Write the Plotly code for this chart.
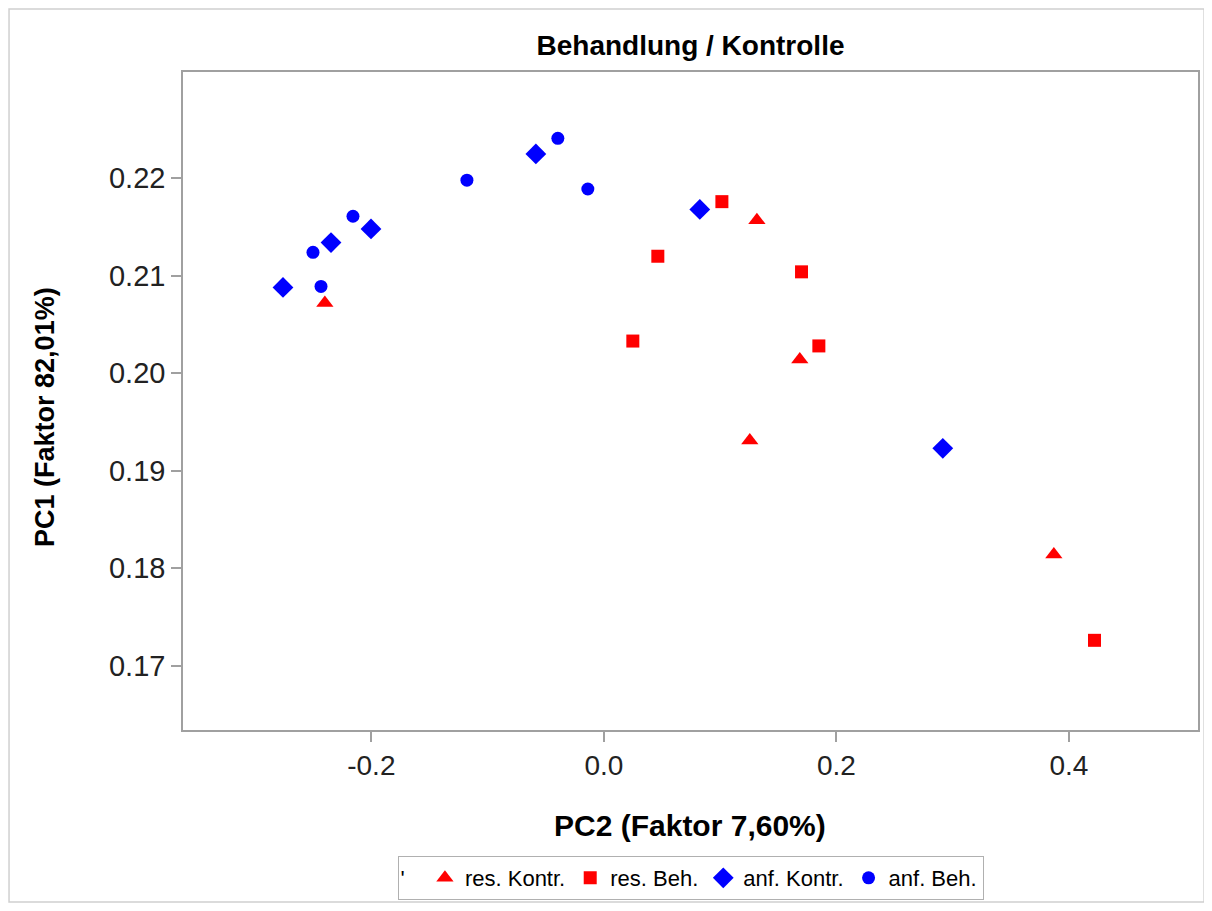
import plotly.graph_objects as go

# PC2 (x) / PC1 (y) values per group
res_kontr_x = [-0.240, 0.1316, 0.1685, 0.1255, 0.387]
res_kontr_y = [0.2072, 0.2157, 0.2014, 0.1931, 0.1814]

res_beh_x = [0.1015, 0.0464, 0.170, 0.0249, 0.1849, 0.422]
res_beh_y = [0.2176, 0.2120, 0.2104, 0.2033, 0.2028, 0.1726]

anf_kontr_x = [-0.276, -0.2347, -0.2003, -0.0585, 0.0825, 0.2915]
anf_kontr_y = [0.2088, 0.2134, 0.2148, 0.2225, 0.2168, 0.1923]

anf_beh_x = [-0.2502, -0.2158, -0.2433, -0.1178, -0.0396, -0.0138]
anf_beh_y = [0.2124, 0.2161, 0.2089, 0.2198, 0.2241, 0.2189]

x_ticks = [-0.2, 0.0, 0.2, 0.4]
x_tick_labels = ["-0.2", "0.0", "0.2", "0.4"]
y_ticks = [0.17, 0.18, 0.19, 0.20, 0.21, 0.22]
y_tick_labels = ["0.17", "0.18", "0.19", "0.20", "0.21", "0.22"]

RED = "#ff0000"
BLUE = "#0000ff"
FONT = "Liberation Sans, Arial, sans-serif"

fig = go.Figure()
fig.add_trace(go.Scatter(x=res_kontr_x, y=res_kontr_y, mode="markers", name="res. Kontr.",
                         marker=dict(symbol="triangle-up", size=15, color=RED)))
fig.add_trace(go.Scatter(x=res_beh_x, y=res_beh_y, mode="markers", name="res. Beh.",
                         marker=dict(symbol="square", size=13, color=RED)))
fig.add_trace(go.Scatter(x=anf_kontr_x, y=anf_kontr_y, mode="markers", name="anf. Kontr.",
                         marker=dict(symbol="diamond", size=16, color=BLUE)))
fig.add_trace(go.Scatter(x=anf_beh_x, y=anf_beh_y, mode="markers", name="anf. Beh.",
                         marker=dict(symbol="circle", size=13, color=BLUE)))

axis_common = dict(
    showgrid=False, zeroline=False, showline=True, linecolor="#a0a0a0", linewidth=1.5,
    mirror=True, ticks="outside", ticklen=10, tickcolor="#a0a0a0", tickwidth=1.5,
    automargin=False,
)

fig.update_layout(
    width=1204, height=895,
    paper_bgcolor="white", plot_bgcolor="white",
    margin=dict(l=175, r=14, t=64, b=173, autoexpand=False),
    title=dict(text="<b>Behandlung / Kontrolle</b>", xref="paper", x=0.5, xanchor="center",
               y=0.9587, yanchor="middle",
               font=dict(family=FONT, size=28, color="black")),
    xaxis=dict(range=[-0.362, 0.511], tickvals=x_ticks, ticktext=x_tick_labels,
               tickfont=dict(family=FONT, size=28, color="#222222"),
               **axis_common),
    yaxis=dict(range=[0.1634, 0.2309], tickvals=y_ticks, ticktext=y_tick_labels,
               tickfont=dict(family=FONT, size=29, color="#222222"),
               **axis_common),
    showlegend=True,
    legend=dict(orientation="h", x=0.5, xanchor="center", y=-0.2584, yanchor="bottom",
                bordercolor="#b0b0b0", borderwidth=1, bgcolor="white",
                title=dict(text="'  ", side="left", font=dict(family=FONT, size=22, color="black")),
                font=dict(family=FONT, size=22, color="black"),
                itemwidth=30, tracegroupgap=0),
    annotations=[
        dict(text="<b>PC2 (Faktor 7,60%)</b>", xref="paper", yref="paper", x=0.4995, y=-0.1444,
             xanchor="center", yanchor="middle", showarrow=False,
             font=dict(family=FONT, size=30, color="black")),
        dict(text="<b>PC1 (Faktor 82,01%)</b>", xref="paper", yref="paper", x=-0.136, y=0.4757,
             xanchor="center", yanchor="middle", showarrow=False, textangle=-90,
             font=dict(family=FONT, size=27, color="black")),
    ],
    shapes=[dict(type="rect", xref="paper", yref="paper", x0=-0.1714, x1=1.006, y0=-0.2614, y1=1.0957,
                 line=dict(color="#d0d0d0", width=1.5), fillcolor="rgba(0,0,0,0)", layer="below")],
)

fig.write_html("out.html")
